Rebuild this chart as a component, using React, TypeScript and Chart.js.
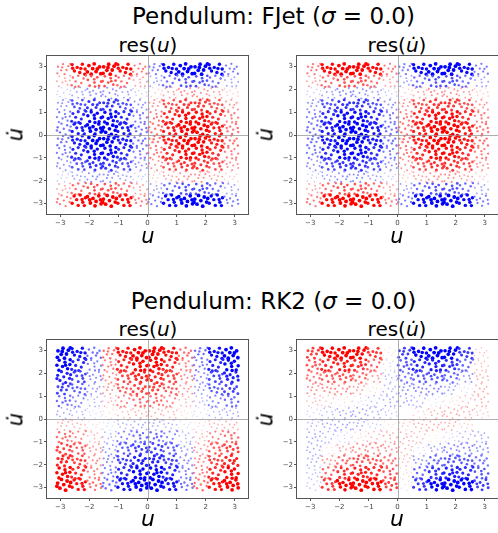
import React, { useEffect, useRef } from 'react';
import { Chart, registerables } from 'chart.js';

Chart.register(...registerables);

// ---------- data ----------
const LIM = 3.456;
const TICK_VALUES = [-3, -2, -1, 0, 1, 2, 3];
const GRID_N = 12; // cells per axis, rows listed from top (u̇ = +π) to bottom (u̇ = -π)

// FJet: res(u) and res(u̇) look identical in the reference
const FJET_RES = [
  [2, 7, 9, 9, 7, 2, -2, -7, -9, -9, -7, -2],
  [1, 2.5, 3.5, 3.5, 2.5, 1, -1, -2.5, -3.5, -3.5, -2.5, -1],
  [-0.4, -1, -1.4, -1.4, -1, -0.4, 0.4, 1, 1.4, 1.4, 1, 0.4],
  [-1.3, -3.5, -4.8, -4.8, -3.5, -1.3, 1.3, 3.5, 4.8, 4.8, 3.5, 1.3],
  [-2, -5.2, -7, -7, -5.2, -2, 2, 5.2, 7, 7, 5.2, 2],
  [-2.2, -6, -8.2, -8.2, -6, -2.2, 2.2, 6, 8.2, 8.2, 6, 2.2],
  [-2.2, -6, -8.2, -8.2, -6, -2.2, 2.2, 6, 8.2, 8.2, 6, 2.2],
  [-2, -5.2, -7, -7, -5.2, -2, 2, 5.2, 7, 7, 5.2, 2],
  [-1.3, -3.5, -4.8, -4.8, -3.5, -1.3, 1.3, 3.5, 4.8, 4.8, 3.5, 1.3],
  [-0.4, -1, -1.4, -1.4, -1, -0.4, 0.4, 1, 1.4, 1.4, 1, 0.4],
  [1, 2.5, 3.5, 3.5, 2.5, 1, -1, -2.5, -3.5, -3.5, -2.5, -1],
  [2, 7, 9, 9, 7, 2, -2, -7, -9, -9, -7, -2],
];

const RK2_RES_U = [
  [-8.7, -6.3, -2.3, 2.3, 6.3, 8.7, 8.7, 6.3, 2.3, -2.3, -6.3, -8.7],
  [-7.1, -5.2, -1.9, 1.9, 5.2, 7.1, 7.1, 5.2, 1.9, -1.9, -5.2, -7.1],
  [-5.5, -4.0, -1.5, 1.5, 4.0, 5.5, 5.5, 4.0, 1.5, -1.5, -4.0, -5.5],
  [-4.0, -2.9, -1.1, 1.1, 2.9, 4.0, 4.0, 2.9, 1.1, -1.1, -2.9, -4.0],
  [-2.4, -1.7, -0.6, 0.6, 1.7, 2.4, 2.4, 1.7, 0.6, -0.6, -1.7, -2.4],
  [-0.8, -0.6, -0.2, 0.2, 0.6, 0.8, 0.8, 0.6, 0.2, -0.2, -0.6, -0.8],
  [0.8, 0.6, 0.2, -0.2, -0.6, -0.8, -0.8, -0.6, -0.2, 0.2, 0.6, 0.8],
  [2.4, 1.7, 0.6, -0.6, -1.7, -2.4, -2.4, -1.7, -0.6, 0.6, 1.7, 2.4],
  [4.0, 2.9, 1.1, -1.1, -2.9, -4.0, -4.0, -2.9, -1.1, 1.1, 2.9, 4.0],
  [5.5, 4.0, 1.5, -1.5, -4.0, -5.5, -5.5, -4.0, -1.5, 1.5, 4.0, 5.5],
  [7.1, 5.2, 1.9, -1.9, -5.2, -7.1, -7.1, -5.2, -1.9, 1.9, 5.2, 7.1],
  [8.7, 6.3, 2.3, -2.3, -6.3, -8.7, -8.7, -6.3, -2.3, 2.3, 6.3, 8.7],
];

const RK2_RES_UDOT = [
  [4.6, 8.2, 9.6, 8.4, 4.9, 0.2, -4.6, -8.2, -9.6, -8.4, -4.9, 0.5],
  [3.4, 5.6, 6.3, 5.3, 2.9, -0.3, -3.4, -5.6, -6.3, -5.3, -2.9, 0.6],
  [2.3, 3.4, 3.6, 2.8, 1.3, -0.6, -2.3, -3.4, -3.6, -2.8, -1.3, 0.8],
  [1.4, 1.7, 1.6, 1.0, 0.2, -0.7, -1.4, -1.7, -1.6, -1.0, -0.2, 0.9],
  [0.6, 0.5, 0.2, -0.2, -0.6, -0.9, -0.9, -0.7, -0.2, 0.2, 0.6, 0.8],
  [-0.3, -0.6, -0.9, -1.0, -0.8, -0.5, 0.0, 0.4, 0.8, 0.9, 0.8, 0.5],
  [-0.6, -0.9, -1.0, -0.8, -0.4, 0.2, 0.5, 0.8, 0.9, 0.8, 0.4, 0.0],
  [-0.9, -0.7, -0.3, 0.3, 0.7, 0.9, 0.8, 0.6, 0.1, -0.3, -0.7, -0.9],
  [-0.9, 0.2, 1.0, 1.6, 1.7, 1.4, 0.7, -0.2, -1.0, -1.6, -1.7, -1.4],
  [-0.8, 1.3, 2.8, 3.6, 3.4, 2.3, 0.6, -1.3, -2.8, -3.6, -3.4, -2.3],
  [-0.6, 2.9, 5.3, 6.3, 5.6, 3.4, 0.3, -2.9, -5.3, -6.3, -5.6, -3.4],
  [-0.5, 4.9, 8.4, 9.6, 8.2, 4.6, -0.2, -4.9, -8.4, -9.6, -8.2, -4.6],
];

// hand-placed sample offsets inside a 3x3-cell tile (units of cells)
const SAMPLE_TILE: [number, number][] = [
  [0.12, 0.30], [0.45, 0.08], [0.80, 0.25], [0.33, 0.60], [0.68, 0.57], [0.08, 0.85], [0.55, 0.92], [0.93, 0.05], [0.40, 0.35],
  [1.05, 0.12], [1.38, 0.35], [1.72, 0.08], [1.90, 0.48], [1.20, 0.66], [1.55, 0.78], [1.88, 0.93], [1.08, 0.42], [1.62, 0.45],
  [2.15, 0.20], [2.50, 0.05], [2.85, 0.30], [2.40, 0.45], [2.05, 0.72], [2.62, 0.70], [2.93, 0.88], [2.70, 0.48], [2.30, 0.92],
  [0.20, 1.10], [0.58, 1.25], [0.92, 1.05], [0.05, 1.50], [0.42, 1.62], [0.75, 1.80], [0.18, 1.92], [0.62, 1.50], [0.90, 1.45],
  [1.10, 1.20], [1.45, 1.05], [1.80, 1.28], [1.28, 1.52], [1.65, 1.66], [1.02, 1.85], [1.48, 1.95], [1.95, 1.02], [1.25, 1.98],
  [2.08, 1.40], [2.30, 1.08], [2.70, 1.18], [2.95, 1.55], [2.52, 1.62], [2.20, 1.88], [2.82, 1.90], [2.50, 1.35], [2.55, 1.95],
  [0.35, 2.05], [0.72, 2.18], [0.10, 2.35], [0.50, 2.48], [0.88, 2.60], [0.25, 2.78], [0.62, 2.95], [0.95, 2.30], [0.05, 2.62],
  [1.18, 2.10], [1.58, 2.02], [1.92, 2.25], [1.35, 2.40], [1.75, 2.62], [1.05, 2.70], [1.45, 2.88], [1.70, 2.38], [1.85, 2.90],
  [2.05, 2.15], [2.42, 2.30], [2.80, 2.08], [2.62, 2.55], [2.25, 2.68], [2.95, 2.75], [2.55, 2.92], [2.20, 2.42], [2.92, 2.42],
];

// ---------- helpers ----------
const CELL = (2 * Math.PI) / GRID_N;
const TILE_CELLS = 3;

function buildPoints(table: number[][]) {
  let vmax = 0;
  table.forEach((row) => row.forEach((v) => (vmax = Math.max(vmax, Math.abs(v)))));
  const data: { x: number; y: number }[] = [];
  const colors: string[] = [];
  const radii: number[] = [];
  const nT = GRID_N / TILE_CELLS;
  for (let tr = 0; tr < nT; tr++) {
    for (let tc = 0; tc < nT; tc++) {
      for (const [tx, ty] of SAMPLE_TILE) {
        const cx = tc * TILE_CELLS + tx;
        const cy = tr * TILE_CELLS + ty;
        const col = Math.min(GRID_N - 1, Math.floor(cx));
        const row = Math.min(GRID_N - 1, Math.floor(cy));
        const val = table[row][col];
        const t = Math.min(1, Math.abs(val) / vmax);
        const tc2 = Math.min(1, 1.1 * Math.sqrt(t));
        const w = Math.round(255 * (1 - tc2));
        colors.push(val >= 0 ? `rgb(255,${w},${w})` : `rgb(${w},${w},255)`);
        radii.push(0.5 + 1.4 * Math.sqrt(t));
        data.push({ x: -Math.PI + cx * CELL, y: Math.PI - cy * CELL });
      }
    }
  }
  return { data, colors, radii };
}

const fmt = (v: number) => (v < 0 ? '\u2212' + Math.abs(v) : String(v));

const CW = 250;
const CH = 190;
const PAD_TOP = 6;
const Y_AXIS_W = 47;
const BOX_H = 158;

const framePlugin = {
  id: 'frame',
  afterDatasetsDraw(chart: any) {
    const { ctx, chartArea: a, scales } = chart;
    const x0 = Math.round(scales.x.getPixelForValue(0)) + 0.5;
    const y0 = Math.round(scales.y.getPixelForValue(0)) + 0.5;
    ctx.save();
    ctx.strokeStyle = 'rgba(150,150,150,0.75)';
    ctx.lineWidth = 1;
    ctx.beginPath();
    ctx.moveTo(x0, a.top);
    ctx.lineTo(x0, a.bottom);
    ctx.moveTo(a.left, y0);
    ctx.lineTo(a.right, y0);
    ctx.stroke();
    ctx.strokeStyle = '#555';
    ctx.strokeRect(Math.round(a.left) - 0.5, Math.round(a.top) - 0.5, Math.round(a.right - a.left) + 1, Math.round(a.bottom - a.top) + 1);
    ctx.restore();
  },
};

function scaleOpts(isX: boolean) {
  return {
    type: 'linear' as const,
    min: -LIM,
    max: LIM,
    afterBuildTicks: (s: any) => {
      s.ticks = TICK_VALUES.map((v) => ({ value: v }));
    },
    afterFit: (s: any) => {
      if (isX) s.height = CH - PAD_TOP - BOX_H;
      else s.width = Y_AXIS_W;
    },
    ticks: {
      font: { family: 'DejaVu Sans', size: 7 },
      color: '#444',
      padding: isX ? 2 : 1,
      maxRotation: 0,
      autoSkip: false,
      callback: (v: any) => fmt(Number(v)),
    },
    grid: { display: true, drawOnChartArea: false, drawTicks: true, tickLength: 3, color: '#555', lineWidth: 1 },
    border: { display: false },
  };
}

function Panel({ table, left, top, padRight }: { table: number[][]; left: number; top: number; padRight: number }) {
  const ref = useRef<HTMLCanvasElement>(null);
  useEffect(() => {
    const { data, colors, radii } = buildPoints(table);
    const chart = new Chart(ref.current as HTMLCanvasElement, {
      type: 'scatter',
      data: {
        datasets: [
          {
            data,
            pointBackgroundColor: colors,
            pointRadius: radii,
            pointBorderWidth: 0,
            pointHoverRadius: radii,
          } as any,
        ],
      },
      options: {
        responsive: false,
        animation: false,
        devicePixelRatio: 1,
        events: [],
        layout: { padding: { top: PAD_TOP, right: padRight, left: 0, bottom: 0 } },
        plugins: { legend: { display: false }, tooltip: { enabled: false }, title: { display: false } },
        scales: { x: scaleOpts(true) as any, y: scaleOpts(false) as any },
      },
      plugins: [framePlugin],
    });
    return () => chart.destroy();
  }, [table, padRight]);
  return (
    <canvas
      ref={ref}
      width={CW}
      height={CH}
      style={{ position: 'absolute', left, top, width: CW, height: CH }}
    />
  );
}

const FONT = "'DejaVu Sans', sans-serif";

function Label({ cx, baseline, size, children }: { cx: number; baseline: number; size: number; children: React.ReactNode }) {
  return (
    <div
      style={{
        position: 'absolute',
        left: cx - 250,
        width: 500,
        top: baseline - 0.846 * size,
        height: size,
        lineHeight: size + 'px',
        fontSize: size,
        textAlign: 'center',
        whiteSpace: 'nowrap',
        fontFamily: FONT,
        color: '#000',
      }}
    >
      {children}
    </div>
  );
}

function VLabel({ cx, cy, size, children }: { cx: number; cy: number; size: number; children: React.ReactNode }) {
  return (
    <div
      style={{
        position: 'absolute',
        left: cx - 40,
        width: 80,
        top: cy - size / 2,
        height: size,
        lineHeight: size + 'px',
        fontSize: size,
        textAlign: 'center',
        whiteSpace: 'nowrap',
        fontFamily: FONT,
        transform: 'rotate(-90deg)',
        transformOrigin: '50% 50%',
        color: '#000',
      }}
    >
      {children}
    </div>
  );
}

const U = <i>u</i>;
const UDOT = <i>u{'\u0307'}</i>;

export default function App() {
  return (
    <div style={{ position: 'absolute', left: 0, top: 0, width: 498, height: 533, background: '#fff', overflow: 'hidden' }}>
      <Label cx={273.5} baseline={24} size={23}>
        Pendulum: FJet (<i>σ</i> = 0.0)
      </Label>
      <Label cx={148} baseline={51.5} size={20}>res({U})</Label>
      <Label cx={397} baseline={51.5} size={20}>res({UDOT})</Label>
      <Panel table={FJET_RES} left={0} top={50} padRight={1} />
      <Panel table={FJET_RES} left={250} top={50} padRight={1} />
      <Label cx={148} baseline={243.5} size={21}>{U}</Label>
      <Label cx={397} baseline={243.5} size={21}>{U}</Label>
      <VLabel cx={15.7} cy={134.5} size={21}>{UDOT}</VLabel>
      <VLabel cx={265.7} cy={134.5} size={21}>{UDOT}</VLabel>

      <Label cx={273.5} baseline={309} size={23}>
        Pendulum: RK2 (<i>σ</i> = 0.0)
      </Label>
      <Label cx={148} baseline={335.5} size={20}>res({U})</Label>
      <Label cx={397} baseline={335.5} size={20}>res({UDOT})</Label>
      <Panel table={RK2_RES_U} left={0} top={334} padRight={1} />
      <Panel table={RK2_RES_UDOT} left={250} top={334} padRight={1} />
      <Label cx={148} baseline={527} size={22}>{U}</Label>
      <Label cx={397} baseline={527} size={22}>{U}</Label>
      <VLabel cx={15.7} cy={419} size={21}>{UDOT}</VLabel>
      <VLabel cx={265.7} cy={419} size={21}>{UDOT}</VLabel>
    </div>
  );
}
